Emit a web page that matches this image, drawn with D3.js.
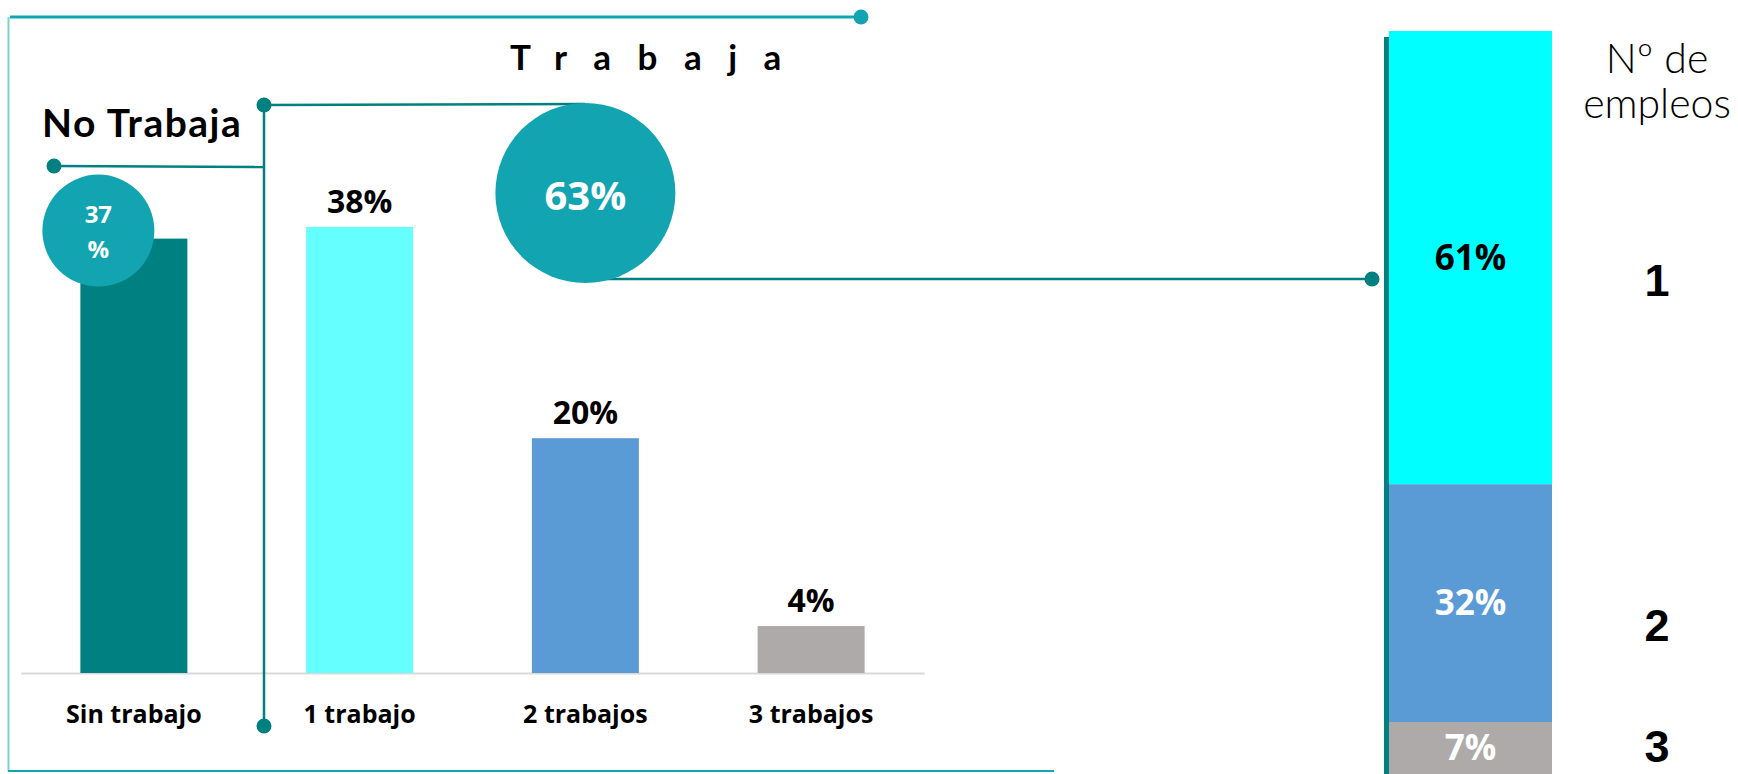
<!DOCTYPE html>
<html>
<head>
<meta charset="utf-8">
<script src="https://cdn.jsdelivr.net/npm/d3@7"></script>
<style>
  body { margin: 0; background: #fff; }
  svg { display: block; }
</style>
</head>
<body>
<script>
// données du graphique
const categorias = ["Sin trabajo", "1 trabajo", "2 trabajos", "3 trabajos"];
const porcentajes = [37, 38, 20, 4];
const empleos = ["1", "2", "3"];
const empleosPct = [61, 32, 7];
const noTrabaja = 37;
const trabaja = 63;

// couleurs
const coloresBarras = ["#008080", "#66ffff", "#5b9bd5", "#aeaaaa"];
const coloresPila = ["#00ffff", "#5b9bd5", "#aeaaaa"];
const textoPila = ["#000", "#fff", "#fff"];

const teal = "#008080", tealClaro = "#12a5b1";
const fuenteDatos = "'Open Sans', 'Noto Sans', sans-serif";
const fuenteTitulo = "Lato, 'Noto Sans', sans-serif";

const W = 1738, H = 774;
const svg = d3.select("body").append("svg")
    .attr("width", W)
    .attr("height", H);

// échelles du diagramme en barres
const x = d3.scaleBand()
    .domain(categorias)
    .range([21, 924])
    .paddingInner(0.526)
    .paddingOuter(0.263);

const y = d3.scaleLinear()
    .domain([0, 40])
    .range([673, 673 - 40 * 11.74]);

// cadre
svg.append("line")
    .attr("x1", 8.5).attr("x2", 8.5).attr("y1", 17).attr("y2", 771)
    .attr("stroke", "#7fd0d6").attr("stroke-width", 2);
svg.append("line")
    .attr("x1", 8).attr("x2", 1054).attr("y1", 771).attr("y2", 771)
    .attr("stroke", tealClaro).attr("stroke-width", 2);
svg.append("line")
    .attr("x1", 10).attr("x2", 861).attr("y1", 17).attr("y2", 17)
    .attr("stroke", tealClaro).attr("stroke-width", 3);
svg.append("circle")
    .attr("cx", 861).attr("cy", 17).attr("r", 7.5)
    .attr("fill", tealClaro);

// axe X
const axeX = svg.append("g")
    .attr("transform", "translate(0," + y(0) + ")")
    .call(d3.axisBottom(x).tickSize(0).tickPadding(32));
axeX.select(".domain").attr("stroke", "#d9d9d9").attr("stroke-width", 2);
axeX.selectAll("text")
    .style("font-family", fuenteDatos)
    .style("font-weight", "bold")
    .style("font-size", "25px")
    .attr("fill", "#000");

// barres
svg.selectAll(".barre")
    .data(porcentajes)
    .enter()
    .append("rect")
    .attr("class", "barre")
    .attr("x", (d, i) => x(categorias[i]))
    .attr("y", d => y(d))
    .attr("width", x.bandwidth())
    .attr("height", d => y(0) - y(d))
    .attr("fill", (d, i) => coloresBarras[i]);

// étiquettes des barres (sauf la première, dans la bulle)
svg.selectAll(".etiquette")
    .data(porcentajes.slice(1))
    .enter()
    .append("text")
    .attr("class", "etiquette")
    .text(d => d + "%")
    .attr("x", (d, i) => x(categorias[i + 1]) + x.bandwidth() / 2)
    .attr("y", d => y(d) - 14)
    .attr("text-anchor", "middle")
    .style("font-family", fuenteDatos)
    .style("font-weight", "bold")
    .style("font-size", "32px")
    .attr("fill", "#000");

// connecteurs
const xSep = 264;
svg.append("line")
    .attr("x1", xSep).attr("x2", xSep).attr("y1", 105).attr("y2", 726)
    .attr("stroke", teal).attr("stroke-width", 2.5);
svg.append("line")
    .attr("x1", 54).attr("x2", xSep).attr("y1", 166).attr("y2", 167)
    .attr("stroke", teal).attr("stroke-width", 2.5);
svg.append("line")
    .attr("x1", xSep).attr("x2", 585).attr("y1", 105).attr("y2", 104)
    .attr("stroke", teal).attr("stroke-width", 2.5);
svg.append("line")
    .attr("x1", 585).attr("x2", 1372).attr("y1", 279).attr("y2", 279)
    .attr("stroke", teal).attr("stroke-width", 2.5);
[[54, 166], [xSep, 105], [xSep, 726], [1372, 279]].forEach(p => {
    svg.append("circle")
        .attr("cx", p[0]).attr("cy", p[1]).attr("r", 7.5)
        .attr("fill", teal);
});

// bulle "No trabaja"
const cx37 = x(categorias[0]) + 18, cy37 = y(noTrabaja) - 8;
svg.append("circle")
    .attr("cx", cx37).attr("cy", cy37).attr("r", 56)
    .attr("fill", tealClaro);
svg.append("text")
    .attr("x", cx37).attr("y", cy37 - 8)
    .attr("text-anchor", "middle")
    .text(noTrabaja)
    .style("font-family", fuenteDatos).style("font-weight", "bold").style("font-size", "24px")
    .attr("fill", "#fff");
svg.append("text")
    .attr("x", cx37).attr("y", cy37 + 27)
    .attr("text-anchor", "middle")
    .text("%")
    .style("font-family", fuenteDatos).style("font-weight", "bold").style("font-size", "24px")
    .attr("fill", "#fff");

// bulle "Trabaja"
const cx63 = x(categorias[2]) + x.bandwidth() / 2, cy63 = 193;
svg.append("circle")
    .attr("cx", cx63).attr("cy", cy63).attr("r", 90)
    .attr("fill", tealClaro);
svg.append("text")
    .attr("x", cx63).attr("y", cy63 + 17)
    .attr("text-anchor", "middle")
    .text(trabaja + "%")
    .style("font-family", fuenteDatos).style("font-weight", "bold").style("font-size", "40px")
    .attr("fill", "#fff");

// titres
svg.append("text")
    .text("No Trabaja")
    .attr("x", 42).attr("y", 137)
    .style("font-family", fuenteTitulo).style("font-weight", "bold").style("font-size", "39px")
    .style("letter-spacing", "1.5px")
    .attr("fill", "#000");
svg.append("text")
    .text("Trabaja")
    .attr("x", 510).attr("y", 70)
    .style("font-family", fuenteTitulo).style("font-weight", "bold").style("font-size", "35px")
    .style("letter-spacing", "26.5px")
    .attr("fill", "#000");

// barre empilée
const fin = d3.cumsum(empleosPct);
const yS = d3.scaleLinear()
    .domain([0, 100])
    .range([31, 774]);
const xS0 = 1389, largeur = 163;

svg.append("rect")
    .attr("x", 1384).attr("y", 37).attr("width", 5).attr("height", H - 37)
    .attr("fill", teal);

svg.selectAll(".pile")
    .data(empleosPct)
    .enter()
    .append("rect")
    .attr("class", "pile")
    .attr("x", xS0)
    .attr("y", (d, i) => yS(fin[i] - d))
    .attr("width", largeur)
    .attr("height", d => yS(d) - yS(0))
    .attr("fill", (d, i) => coloresPila[i]);

svg.selectAll(".etiquettePile")
    .data(empleosPct)
    .enter()
    .append("text")
    .attr("class", "etiquettePile")
    .text(d => d + "%")
    .attr("x", xS0 + largeur / 2)
    .attr("y", (d, i) => (yS(fin[i] - d) + yS(fin[i])) / 2 + 12)
    .attr("text-anchor", "middle")
    .style("font-family", fuenteDatos).style("font-weight", "bold").style("font-size", "35px")
    .attr("fill", (d, i) => textoPila[i]);

svg.selectAll(".empleo")
    .data(empleos)
    .enter()
    .append("text")
    .attr("class", "empleo")
    .text(d => d)
    .attr("x", 1657)
    .attr("y", (d, i) => Math.min((yS(fin[i] - empleosPct[i]) + yS(fin[i])) / 2 + 38, H - 12))
    .attr("text-anchor", "middle")
    .style("font-family", "'Liberation Sans', Arial, sans-serif").style("font-weight", "bold").style("font-size", "45px")
    .attr("fill", "#000");

// titre de la barre empilée
const titreDroite = svg.append("text")
    .attr("text-anchor", "middle")
    .style("font-family", fuenteTitulo).style("font-weight", "300").style("font-size", "41px")
    .attr("fill", "#000");
titreDroite.append("tspan").attr("x", 1657).attr("y", 73).text("Nº de");
titreDroite.append("tspan").attr("x", 1657).attr("y", 118).text("empleos");
</script>
</body>
</html>
